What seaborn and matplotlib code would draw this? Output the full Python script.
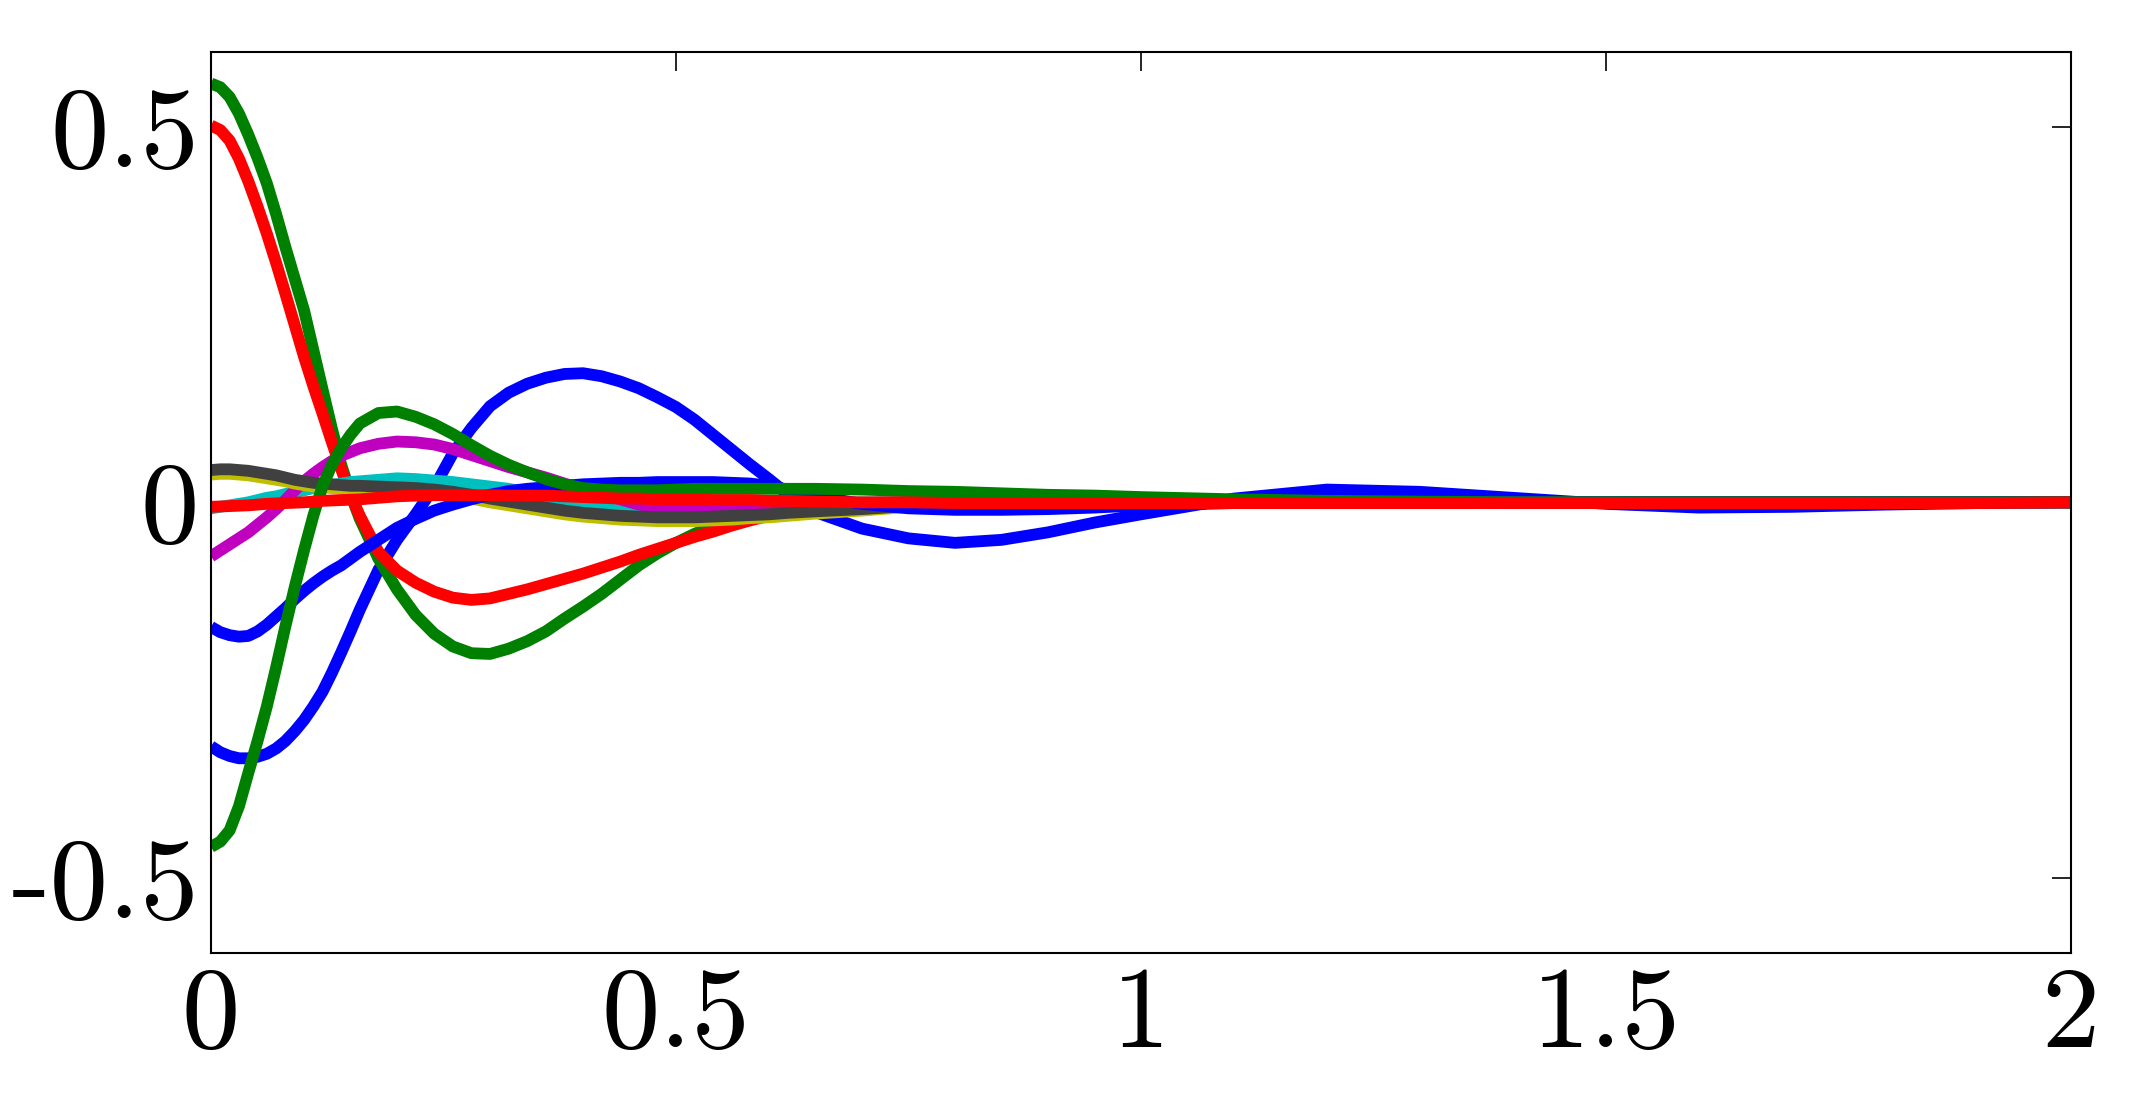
import numpy as np
import pandas as pd
import matplotlib
matplotlib.use("Agg")
import matplotlib.pyplot as plt
import seaborn as sns

# ---------------- data ----------------
x = [0.00, 0.01, 0.02, 0.03, 0.04, 0.05, 0.06, 0.07, 0.08, 0.09,
     0.10, 0.11, 0.12, 0.13, 0.14, 0.15, 0.16, 0.18,
     0.20, 0.22, 0.24, 0.26, 0.28, 0.30, 0.32, 0.34, 0.36, 0.38,
     0.40, 0.42, 0.44, 0.46, 0.48, 0.50, 0.52, 0.54, 0.56, 0.58,
     0.60, 0.62, 0.65, 0.70, 0.75, 0.80, 0.85, 0.90, 0.95, 1.00,
     1.10, 1.20, 1.30, 1.40, 1.50, 1.60, 1.70, 1.80, 1.90, 2.00]

blue_big = [-0.325, -0.333, -0.338, -0.341, -0.341, -0.339, -0.335, -0.328, -0.318, -0.305,
            -0.290, -0.272, -0.252, -0.227, -0.200, -0.172, -0.143, -0.090,
            -0.050, -0.016, 0.020, 0.065, 0.099, 0.128, 0.146, 0.158, 0.166, 0.171,
            0.172, 0.168, 0.161, 0.152, 0.140, 0.127, 0.110, 0.090, 0.070, 0.050,
            0.031, 0.011, -0.013, -0.035, -0.048, -0.054, -0.050, -0.040, -0.027, -0.016,
            0.005, 0.017, 0.014, 0.006, -0.002, -0.007, -0.006, -0.003, -0.001, 0.000]

green_big = [0.558, 0.553, 0.540, 0.518, 0.490, 0.459, 0.425, 0.384, 0.340, 0.298,
             0.256, 0.203, 0.150, 0.098, 0.050, 0.011, -0.022, -0.075,
             -0.116, -0.150, -0.175, -0.192, -0.201, -0.202, -0.195, -0.185, -0.172, -0.155,
             -0.139, -0.122, -0.103, -0.084, -0.068, -0.054, -0.042, -0.032, -0.024, -0.017,
             -0.012, -0.009, -0.006, -0.003, -0.001, 0.000, 0.000, 0.000, 0.000, 0.000,
             0.000, 0.000, 0.000, 0.000, 0.000, 0.000, 0.000, 0.000, 0.000, 0.000]

red_big = [0.502, 0.496, 0.482, 0.458, 0.428, 0.394, 0.358, 0.319, 0.278, 0.236,
           0.194, 0.155, 0.118, 0.080, 0.044, 0.010, -0.018, -0.066,
           -0.091, -0.107, -0.119, -0.127, -0.130, -0.128, -0.122, -0.116, -0.109, -0.102,
           -0.095, -0.087, -0.079, -0.070, -0.062, -0.054, -0.046, -0.039, -0.031, -0.024,
           -0.018, -0.014, -0.009, -0.004, -0.001, 0.000, 0.000, 0.000, 0.000, 0.000,
           0.000, 0.000, 0.000, 0.000, 0.000, 0.000, 0.000, 0.000, 0.000, 0.000]

cyan = [-0.008, -0.006, -0.004, -0.002, 0.000, 0.003, 0.006, 0.008, 0.011, 0.014,
        0.016, 0.019, 0.021, 0.023, 0.025, 0.027, 0.028, 0.030,
        0.032, 0.031, 0.029, 0.027, 0.024, 0.021, 0.018, 0.013, 0.007, 0.003,
        0.000, -0.003, -0.006, -0.008, -0.009, -0.010, -0.010, -0.009, -0.008, -0.006,
        -0.005, -0.004, -0.002, 0.000, 0.000, 0.000, 0.000, 0.000, 0.000, 0.000,
        0.000, 0.000, 0.000, 0.000, 0.000, 0.000, 0.000, 0.000, 0.000, 0.000]

magenta = [-0.072, -0.064, -0.056, -0.048, -0.040, -0.030, -0.020, -0.009, 0.003, 0.016,
           0.028, 0.038, 0.047, 0.055, 0.062, 0.067, 0.072, 0.078,
           0.081, 0.080, 0.077, 0.071, 0.063, 0.055, 0.047, 0.040, 0.033, 0.025,
           0.018, 0.011, 0.004, -0.003, -0.007, -0.008, -0.008, -0.008, -0.007, -0.006,
           -0.005, -0.004, -0.003, -0.001, 0.000, 0.000, 0.000, 0.000, 0.000, 0.000,
           0.000, 0.000, 0.000, 0.000, 0.000, 0.000, 0.000, 0.000, 0.000, 0.000]

yellow = [0.037, 0.038, 0.038, 0.037, 0.036, 0.034, 0.032, 0.030, 0.028, 0.025,
          0.023, 0.021, 0.020, 0.019, 0.018, 0.017, 0.017, 0.016,
          0.015, 0.014, 0.012, 0.009, 0.005, 0.000, -0.004, -0.008, -0.012, -0.016,
          -0.019, -0.021, -0.023, -0.024, -0.025, -0.025, -0.025, -0.024, -0.023, -0.021,
          -0.020, -0.018, -0.015, -0.011, -0.006, -0.003, 0.000, 0.001, 0.001, 0.000,
          0.000, 0.000, 0.000, 0.000, 0.000, 0.000, 0.000, 0.000, 0.000, 0.000]

gray = [0.043, 0.044, 0.044, 0.043, 0.042, 0.040, 0.038, 0.036, 0.033, 0.030,
        0.028, 0.026, 0.025, 0.024, 0.023, 0.022, 0.022, 0.021,
        0.020, 0.019, 0.017, 0.014, 0.010, 0.005, 0.001, -0.003, -0.007, -0.011,
        -0.014, -0.016, -0.018, -0.019, -0.020, -0.020, -0.020, -0.019, -0.018, -0.017,
        -0.016, -0.014, -0.012, -0.009, -0.005, -0.002, 0.000, 0.001, 0.001, 0.000,
        0.000, 0.000, 0.000, 0.000, 0.000, 0.000, 0.000, 0.000, 0.000, 0.000]

blue_small = [-0.166, -0.173, -0.177, -0.179, -0.178, -0.172, -0.163, -0.152, -0.141, -0.129,
              -0.118, -0.108, -0.099, -0.091, -0.084, -0.075, -0.066, -0.050,
              -0.034, -0.022, -0.011, -0.003, 0.004, 0.010, 0.015, 0.018, 0.020, 0.022,
              0.024, 0.025, 0.026, 0.026, 0.027, 0.027, 0.027, 0.027, 0.026, 0.025,
              0.022, 0.017, 0.008, -0.002, -0.008, -0.010, -0.010, -0.009, -0.007, -0.004,
              -0.001, 0.000, 0.000, 0.000, 0.000, 0.000, 0.000, 0.000, 0.000, 0.000]

green_small = [-0.459, -0.452, -0.437, -0.405, -0.361, -0.318, -0.272, -0.220, -0.165, -0.113,
               -0.064, -0.018, 0.022, 0.050, 0.072, 0.090, 0.105, 0.119,
               0.121, 0.114, 0.104, 0.091, 0.076, 0.062, 0.050, 0.040, 0.031, 0.024,
               0.019, 0.017, 0.016, 0.016, 0.016, 0.017, 0.018, 0.018, 0.018, 0.018,
               0.018, 0.018, 0.018, 0.017, 0.015, 0.014, 0.012, 0.010, 0.009, 0.007,
               0.004, 0.002, 0.001, 0.000, 0.000, 0.000, 0.000, 0.000, 0.000, 0.000]

red_flat = [-0.006, -0.0055, -0.005, -0.0045, -0.004, -0.003, -0.002, -0.0015, -0.001, -0.0005,
            0.000, 0.001, 0.002, 0.0025, 0.003, 0.0035, 0.004, 0.006,
            0.008, 0.009, 0.0095, 0.0095, 0.0095, 0.0095, 0.009, 0.009, 0.009, 0.008,
            0.007, 0.006, 0.005, 0.005, 0.004, 0.004, 0.004, 0.003, 0.003, 0.003,
            0.002, 0.002, 0.001, 0.000, 0.000, -0.001, -0.001, -0.001, -0.001, -0.001,
            -0.001, -0.001, -0.001, -0.001, -0.001, -0.001, -0.001, -0.001, -0.001, 0.000]

series_names = ["b1", "g1", "r1", "c", "m", "y", "k", "b2", "g2", "r2"]
series_values = [blue_big, green_big, red_big, cyan, magenta, yellow, gray,
                 blue_small, green_small, red_flat]
series_colors = [(0, 0, 1), (0, 0.5, 0), (1, 0, 0), (0, 0.75, 0.75), (0.75, 0, 0.75),
                 (0.75, 0.75, 0), (0.25, 0.25, 0.25), (0, 0, 1), (0, 0.5, 0), (1, 0, 0)]

x_ticks = [0, 0.5, 1, 1.5, 2]
x_tick_labels = ["0", "0.5", "1", "1.5", "2"]
y_ticks = [-0.5, 0, 0.5]
y_tick_labels = ["-0.5", "0", "0.5"]

# ---------------- long table ----------------
frames = []
for name, vals in zip(series_names, series_values):
    frames.append(pd.DataFrame({"x": x, "y": vals, "series": name}))
df = pd.concat(frames, ignore_index=True)

# ---------------- style ----------------
sns.set_theme(style="white")
plt.rcParams["font.family"] = ["cmr10", "DejaVu Serif"]
plt.rcParams["axes.unicode_minus"] = False
plt.rcParams["axes.formatter.use_mathtext"] = False

fig = plt.figure(figsize=(21.49, 11.01), dpi=100)
ax = fig.add_axes([0.0982, 0.1347, 0.9636 - 0.0982, 0.9528 - 0.1347])

sns.lineplot(data=df, x="x", y="y", hue="series", hue_order=series_names,
             palette=series_colors, sort=False, estimator=None, legend=False,
             linewidth=8.5, solid_joinstyle="round", solid_capstyle="butt", ax=ax)

ax.set_xlim(0, 2)
ax.set_ylim(-0.6, 0.6)
ax.set_xticks(x_ticks)
ax.set_xticklabels(x_tick_labels)
ax.set_yticks(y_ticks)
ax.set_yticklabels(y_tick_labels)
ax.set_xlabel("")
ax.set_ylabel("")

ax.tick_params(axis="both", which="major", direction="in", length=13.7, width=1.2,
               color="black", top=True, right=True, labelsize=84, labelcolor="black")
ax.tick_params(axis="x", pad=10)
ax.tick_params(axis="y", pad=8.5)

for sp in ax.spines.values():
    sp.set_visible(True)
    sp.set_color("black")
    sp.set_linewidth(1.5)

ax.set_facecolor("white")
fig.patch.set_facecolor("white")

fig.savefig("out.png", dpi=100, facecolor="white")
